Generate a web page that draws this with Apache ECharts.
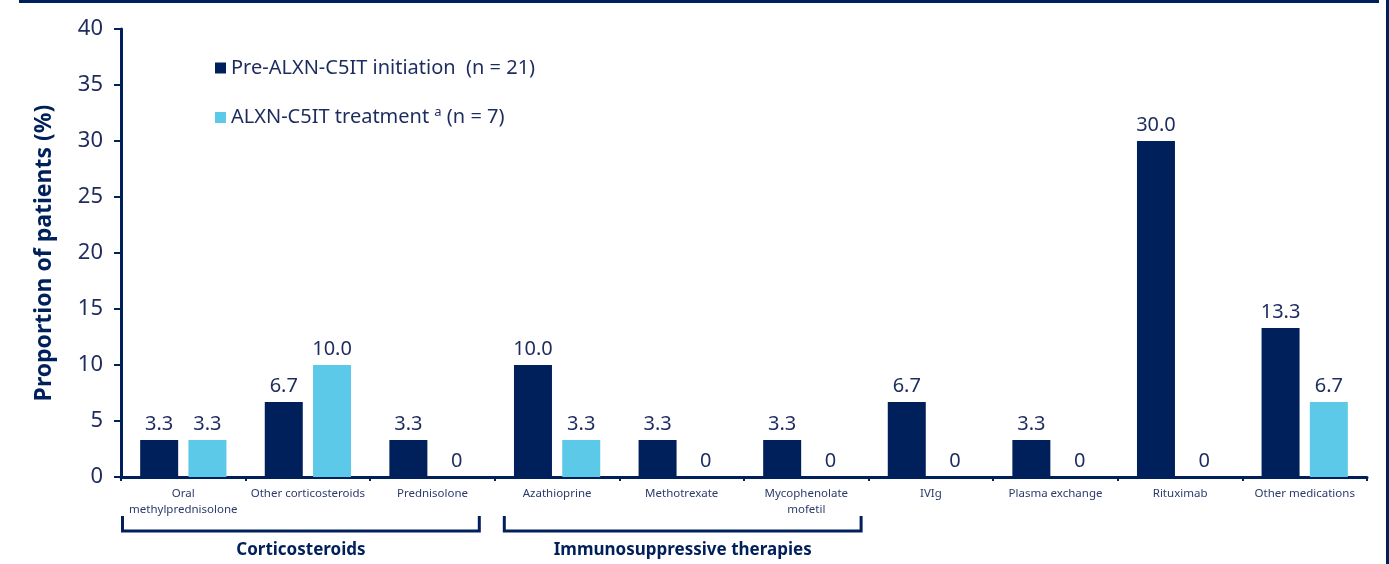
<!DOCTYPE html>
<html>
<head>
<meta charset="utf-8">
<script src="https://cdn.jsdelivr.net/npm/echarts@6/dist/echarts.min.js"></script>
<style>html,body{margin:0;padding:0;background:#fff;}#c{width:1389px;height:564px;}</style>
</head>
<body>
<div id="c"></div>
<script>
const categories = ['Oral\nmethylprednisolone', 'Other corticosteroids', 'Prednisolone', 'Azathioprine', 'Methotrexate', 'Mycophenolate\nmofetil', 'IVIg', 'Plasma exchange', 'Rituximab', 'Other medications'];
const preValues = [3.3, 6.7, 3.3, 10.0, 3.3, 3.3, 6.7, 3.3, 30.0, 13.3];
const treatValues = [3.3, 10.0, 0, 3.3, 0, 0, 0, 0, 0, 6.7];
const seriesNames = ['Pre-ALXN-C5IT initiation (n = 21)', 'ALXN-C5IT treatment a (n = 7)'];
const groups = [
  { name: 'Corticosteroids', from: 0, to: 2 },
  { name: 'Immunosuppressive therapies', from: 3, to: 5 }
];
const yTicks = { min: 0, max: 40, interval: 5 };

const NAVY = '#00205b';
const LIGHT = '#5bc9e7';
const TEXT = '#1d2b5e';
const FONT = '"Noto Sans", sans-serif';
const bracketInsets = [[0, 14], [8, 6]];

const chart = echarts.init(document.getElementById('c'));
const labelFmt = p => p.value === 0 ? '0' : p.value.toFixed(1);
const option = {
  animation: false,
  textStyle: { fontFamily: FONT },
  grid: { left: 121, right: 22, top: 29, bottom: 87 },
  legend: {
    orient: 'vertical', left: 215, top: 58, itemGap: 28, padding: 0,
    icon: 'rect', itemWidth: 11, itemHeight: 11,
    data: seriesNames,
    formatter: n => n === seriesNames[1]
      ? '{t|ALXN-C5IT treatment }{s|a}{t| (n = 7)}'
      : '{t|Pre-ALXN-C5IT initiation  (n = 21)}',
    textStyle: {
      color: TEXT, fontFamily: FONT, padding: [0, 0, 0, 0],
      rich: {
        t: { fontSize: 20, color: TEXT, fontFamily: FONT },
        s: { fontSize: 13, color: TEXT, fontFamily: FONT, verticalAlign: 'top', padding: [0, 0, 10, 0] }
      }
    }
  },
  xAxis: {
    type: 'category', data: categories,
    axisLine: { lineStyle: { color: NAVY, width: 3 } },
    axisTick: { show: true, length: 4, lineStyle: { color: NAVY, width: 2 } },
    axisLabel: { color: '#2b3a6b', fontSize: 11.5, margin: 9, lineHeight: 16, interval: 0 }
  },
  yAxis: {
    type: 'value', min: yTicks.min, max: yTicks.max, interval: yTicks.interval,
    name: 'Proportion of patients (%)', nameLocation: 'middle', nameGap: 65,
    nameTextStyle: { color: NAVY, fontSize: 23, fontWeight: 'bold', fontFamily: FONT },
    axisLine: { show: true, lineStyle: { color: NAVY, width: 3 } },
    axisTick: { show: true, length: 7, lineStyle: { color: NAVY, width: 2 } },
    axisLabel: { color: TEXT, fontSize: 22, margin: 18 },
    splitLine: { show: false }
  },
  series: [
    {
      name: seriesNames[0], type: 'bar', data: preValues, barWidth: 38, barGap: '27%',
      itemStyle: { color: NAVY },
      label: { show: true, position: 'top', distance: 6, color: TEXT, fontSize: 20, formatter: labelFmt }
    },
    {
      name: seriesNames[1], type: 'bar', data: treatValues, barWidth: 38,
      itemStyle: { color: LIGHT },
      label: { show: true, position: 'top', distance: 6, color: TEXT, fontSize: 20, formatter: labelFmt }
    }
  ]
};
chart.setOption(option);

function drawExtras() {
  const half = chart.getModel().getComponent('xAxis', 0).axis.getBandWidth() / 2;
  const y0 = chart.convertToPixel({ yAxisIndex: 0 }, 0);
  const elements = [
    { type: 'rect', shape: { x: 19, y: 0, width: 1360, height: 3 }, style: { fill: NAVY } },
    { type: 'rect', shape: { x: 1386, y: 0, width: 3, height: 564 }, style: { fill: NAVY } }
  ];
  groups.forEach((g, i) => {
    const x1 = chart.convertToPixel({ xAxisIndex: 0 }, g.from) - half + 1.5 + bracketInsets[i][0];
    const x2 = chart.convertToPixel({ xAxisIndex: 0 }, g.to) + half - 1.5 - bracketInsets[i][1];
    const yb = y0 + 54;
    elements.push({
      type: 'polyline',
      shape: { points: [[x1, yb - 15], [x1, yb], [x2, yb], [x2, yb - 15]] },
      style: { stroke: NAVY, lineWidth: 3, fill: null }
    });
    elements.push({
      type: 'text', x: (x1 + x2) / 2, y: yb + 19,
      style: { text: g.name, fill: NAVY, font: 'bold 17px ' + FONT, align: 'center', verticalAlign: 'middle' }
    });
  });
  chart.setOption({ graphic: { elements } });
}
drawExtras();
</script>
</body>
</html>
